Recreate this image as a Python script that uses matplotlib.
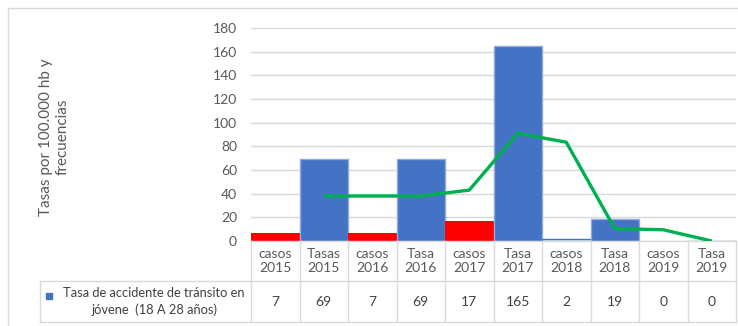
import matplotlib.pyplot as plt
from matplotlib.patches import Rectangle
from matplotlib.lines import Line2D

plt.rcParams['font.family'] = ['Lato', 'DejaVu Sans']

categories = ['casos\n2015', 'Tasas\n2015', 'casos\n2016', 'Tasa\n2016', 'casos\n2017',
              'Tasa\n2017', 'casos\n2018', 'Tasa\n2018', 'casos\n2019', 'Tasa\n2019']
values = [7, 69, 7, 69, 17, 165, 2, 19, 0, 0]
# promedio movil (linea verde), sin valor en la primera categoria
trend_x = [1, 2, 3, 4, 5, 6, 7, 8, 9]
trend_y = [38, 38, 38, 43, 91, 83.5, 10.5, 9.5, 0]
series_name = 'Tasa de accidente de tránsito en\njóvene  (18 A 28 años)'

blue = '#4472C4'
red = '#FF0000'
grid = '#D9D9D9'
txt = '#595959'

fills = [red, blue, red, blue, red, blue, 'white', blue, red, blue]
edges = ['none', '#8FAADC', 'none', '#8FAADC', 'none', '#8FAADC', blue, '#8FAADC', 'none', '#8FAADC']

fig = plt.figure(figsize=(7.38, 3.26), dpi=100)
ax = fig.add_axes([251 / 738, 85 / 326, 485 / 738, 213 / 326])

x = list(range(len(values)))
ax.bar(x, values, width=1.0, color=fills, edgecolor=edges, linewidth=1, zorder=2)
ax.plot(trend_x, trend_y, color='#00B050', lw=2.4, zorder=3, solid_capstyle='butt')

ax.set_xlim(-0.5, len(values) - 0.5)
ax.set_ylim(0, 180)
ax.set_yticks(range(0, 181, 20))
ax.tick_params(axis='y', length=0, pad=10, labelsize=10, labelcolor=txt)
ax.set_xticks([])
ax.grid(axis='y', color=grid, lw=1, zorder=0)
ax.set_axisbelow(True)
for s in ax.spines.values():
    s.set_visible(False)

# tabla de datos debajo del eje
tr = ax.get_xaxis_transform()
h1 = -40 / 213
h2 = -81 / 213
legend_left = (40 - 251) / 485
lkw = dict(color=grid, lw=1, clip_on=False)
ax.add_line(Line2D([0, 1], [0, 0], transform=ax.transAxes, **lkw))
ax.add_line(Line2D([legend_left, 1], [h1, h1], transform=ax.transAxes, **lkw))
ax.add_line(Line2D([legend_left, 1], [h2, h2], transform=ax.transAxes, **lkw))
ax.add_line(Line2D([legend_left, legend_left], [h1, h2], transform=ax.transAxes, **lkw))
for i in range(len(values) + 1):
    ax.add_line(Line2D([i - 0.5, i - 0.5], [0, h2], transform=tr, **lkw))

for i, (c, v) in enumerate(zip(categories, values)):
    ax.text(i, h1 / 2, c, transform=tr, ha='center', va='center',
            fontsize=10, color=txt, linespacing=1.3)
    ax.text(i, (h1 + h2) / 2, str(v), transform=tr, ha='center', va='center',
            fontsize=10, color='#404040')

ax.add_patch(Rectangle(((46 - 251) / 485, -58 / 213), 6 / 485, 6 / 213,
                       transform=ax.transAxes, color=blue, clip_on=False))
ax.text((154 - 251) / 485, (h1 + h2) / 2, series_name, transform=ax.transAxes,
        ha='center', va='center', fontsize=9.3, color='#404040', linespacing=1.4)

fig.text(54 / 738, 0.58, 'Tasas por 100.000 hb y\nfrecuencias', rotation=90,
         ha='center', va='center', fontsize=11, color=txt, multialignment='center')

# borde del grafico
fig.add_artist(Rectangle((8 / 738, -0.1), 1.2, 1.1 - 8 / 326,
                         transform=fig.transFigure, fill=False, edgecolor=grid, lw=1))

fig.savefig('out.png', dpi=100)
